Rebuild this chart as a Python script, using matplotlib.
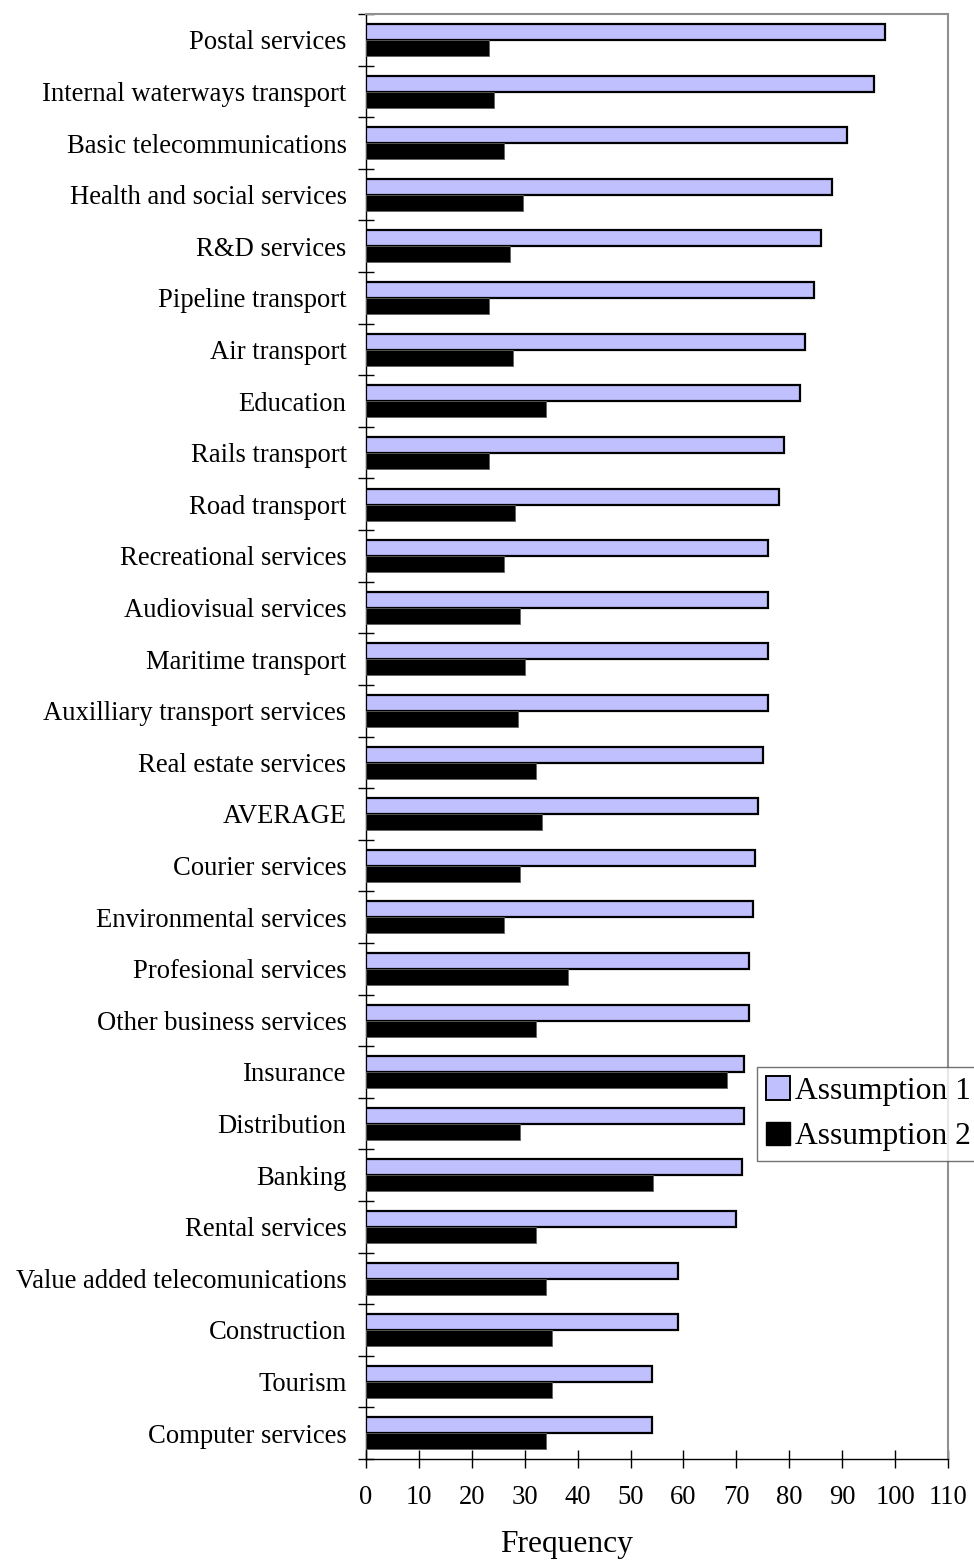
import matplotlib
matplotlib.use("Agg")
import matplotlib.pyplot as plt
import numpy as np
from matplotlib.patches import Patch

categories = [
    "Postal services", "Internal waterways transport", "Basic telecommunications",
    "Health and social services", "R&D services", "Pipeline transport", "Air transport",
    "Education", "Rails transport", "Road transport", "Recreational services",
    "Audiovisual services", "Maritime transport", "Auxilliary transport services",
    "Real estate services", "AVERAGE", "Courier services", "Environmental services",
    "Profesional services", "Other business services", "Insurance", "Distribution",
    "Banking", "Rental services", "Value added telecomunications", "Construction",
    "Tourism", "Computer services",
]
assumption1 = [98, 96, 91, 88, 86, 84.7, 83, 82, 79, 78, 76, 76, 76, 76,
               75, 74, 73.5, 73.2, 72.3, 72.3, 71.5, 71.5, 71, 70, 59, 59, 54, 54]
assumption2 = [23.2, 24.1, 26.1, 29.7, 27.2, 23.2, 27.7, 34.1, 23.2, 28.1, 26.1, 29.2,
               30.1, 28.7, 32.1, 33.2, 29.2, 26.1, 38.2, 32.1, 68.2, 29.2, 54.2, 32.1,
               34.1, 35.2, 35.2, 34.1]
xticks = list(range(0, 111, 10))

plt.rcParams['font.family'] = ['Liberation Serif', 'DejaVu Serif']

W, H = 974, 1565
fig = plt.figure(figsize=(W / 100, H / 100), dpi=100)
ax = fig.add_axes([366 / W, 1 - 1459 / H, (948 - 366) / W, (1459 - 14) / H])

y = np.arange(len(categories))
h = 0.31
ax.barh(y - 0.15, assumption1, height=h, color='#c0c0ff', edgecolor='black',
        linewidth=1.6, label='Assumption 1', zorder=3)
ax.barh(y + 0.16, assumption2, height=h, color='black', edgecolor='#606060',
        linewidth=0.6, label='Assumption 2', zorder=3)

ax.set_ylim(len(categories) - 0.5, -0.5)
ax.set_xlim(0, 110)
ax.set_yticks(y)
ax.set_yticklabels(categories, fontsize=19.2)
ax.set_yticks(np.arange(-0.5, len(categories), 1.0), minor=True)
ax.tick_params(axis='y', which='major', length=0, pad=14)
ax.tick_params(axis='y', which='minor', direction='inout', length=11, width=1)
ax.set_xticks(xticks)
ax.set_xticklabels([str(t) for t in xticks], fontsize=19.2)
ax.tick_params(axis='x', which='major', direction='inout', length=13, width=1, pad=12)

ax.set_xlabel('Frequency', fontsize=22.7)
ax.xaxis.set_label_coords((567 - 366) / 582, -0.049)

for s in ['top', 'right']:
    ax.spines[s].set_color('#909090')
    ax.spines[s].set_linewidth(1.5)
for s in ['left', 'bottom']:
    ax.spines[s].set_color('black')
    ax.spines[s].set_linewidth(1.0)

handles = [Patch(facecolor='#c0c0ff', edgecolor='black', linewidth=1.4),
           Patch(facecolor='black', edgecolor='black', linewidth=1.0)]
leg = fig.legend(handles, ['Assumption 1', 'Assumption 2'], loc='upper left',
                 bbox_to_anchor=(757 / W, 1 - 1067 / H), fontsize=22.7,
                 frameon=True, fancybox=False, handlelength=0.75, handleheight=0.75,
                 handletextpad=0.15, borderpad=0.3, labelspacing=0.5,
                 borderaxespad=0)
leg.get_frame().set_edgecolor('#505050')
leg.get_frame().set_linewidth(1.0)

fig.savefig('out.png', dpi=100)
